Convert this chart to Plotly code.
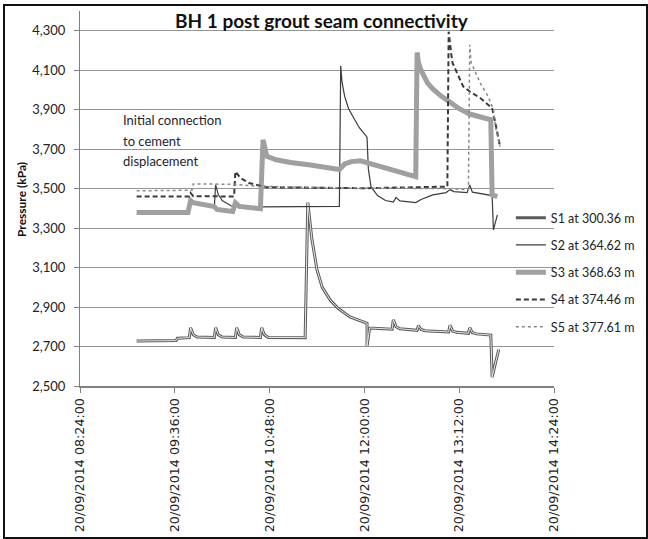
import plotly.graph_objects as go

DATE = "2014-09-20 "

# ---- data (time HH:MM, pressure kPa) ----
s1_time = ["09:07", "09:37", "09:38",
           "09:47", "09:48", "09:50", "09:53",
           "10:06", "10:07", "10:09", "10:12",
           "10:22", "10:23", "10:25", "10:28",
           "10:41", "10:42", "10:44", "10:47",
           "11:15", "11:17", "11:20", "11:24", "11:28", "11:34", "11:40", "11:49",
           "12:02", "12:02", "12:04",
           "12:21", "12:22", "12:24", "12:27",
           "12:40", "12:41", "12:43", "12:46",
           "13:04", "13:05", "13:07", "13:10",
           "13:19", "13:20", "13:22", "13:25",
           "13:36", "13:37", "13:42"]
s1_kpa = [2728, 2730, 2742,
          2745, 2795, 2760, 2748,
          2746, 2795, 2760, 2748,
          2746, 2795, 2760, 2748,
          2746, 2795, 2760, 2746,
          2745, 3430, 3250, 3088, 3000, 2935, 2894, 2850,
          2818, 2703, 2794,
          2788, 2836, 2800, 2790,
          2782, 2806, 2786, 2780,
          2774, 2808, 2778, 2772,
          2767, 2795, 2770, 2764,
          2758, 2545, 2685]

s2_time = ["09:52", "10:06", "10:07", "10:09", "10:12", "10:19", "10:40", "11:41",
           "11:42", "11:43", "11:45", "11:48", "11:52", "11:56", "12:02", "12:03",
           "12:05", "12:10", "12:16",
           "12:22", "12:24", "12:27", "12:39", "12:43", "12:52", "13:02", "13:05",
           "13:08", "13:18", "13:20", "13:22", "13:37", "13:38", "13:41"]
s2_kpa = [3420, 3405, 3520, 3470, 3440, 3412, 3408, 3410,
          4122, 4040, 3967, 3905, 3857, 3810, 3761, 3600,
          3510, 3465, 3440,
          3432, 3455, 3438, 3429, 3445, 3468, 3480, 3495,
          3485, 3480, 3519, 3482, 3465, 3291, 3367]

s3_time = ["09:07", "09:46", "09:48", "09:50", "10:06", "10:08", "10:20", "10:22",
           "10:25", "10:38", "10:41", "10:43", "10:46", "10:53", "11:04", "11:19",
           "11:41", "11:45", "11:50", "11:57", "12:02", "12:10", "12:25", "12:39",
           "12:40", "12:41", "12:43", "12:45", "12:48", "12:52", "12:58", "13:05",
           "13:12", "13:20", "13:28", "13:36", "13:37", "13:41"]
s3_kpa = [3379, 3379, 3440, 3429, 3409, 3395, 3384, 3428,
          3410, 3401, 3398, 3747, 3663, 3646, 3632, 3620,
          3597, 3625, 3637, 3641, 3632, 3612, 3585, 3561,
          4190, 4140, 4100, 4070, 4035, 4005, 3970, 3938,
          3905, 3878, 3862, 3849, 3468, 3460]

s4_time = ["09:07", "09:47", "09:48", "09:50", "10:21", "10:22", "10:26", "10:33",
           "10:46", "12:00", "13:03", "13:04", "13:06", "13:07", "13:15", "13:20",
           "13:28", "13:37", "13:40", "13:43"]
s4_kpa = [3460, 3460, 3478, 3462, 3460, 3587, 3553, 3527,
          3507, 3502, 3510, 4295, 4180, 4136, 4018, 3992,
          3959, 3908, 3815, 3713]

s5_time = ["09:07", "09:49", "09:50", "10:21", "10:40", "11:30", "13:00", "13:19",
           "13:20", "13:21", "13:28", "13:34", "13:38", "13:40", "13:43"]
s5_kpa = [3489, 3492, 3524, 3522, 3512, 3505, 3500, 3495,
          4229, 4140, 4035, 3967, 3900, 3798, 3713]

series_names = ["S1 at 300.36 m", "S2 at 364.62 m", "S3 at 368.63 m",
                "S4 at 374.46 m", "S5 at 377.61 m"]

x_tick_times = ["08:24", "09:36", "10:48", "12:00", "13:12", "14:24"]
x_tick_labels = ["20/09/2014 08:24:00", "20/09/2014 09:36:00", "20/09/2014 10:48:00",
                 "20/09/2014 12:00:00", "20/09/2014 13:12:00", "20/09/2014 14:24:00"]
y_ticks = [2500, 2700, 2900, 3100, 3300, 3500, 3700, 3900, 4100, 4300]


def ts(lst):
    return [DATE + t for t in lst]


FONT = "Lato, 'Open Sans', sans-serif"
TXT = "#222222"

fig = go.Figure()

# S1: double line (dark outline with light core)
fig.add_trace(go.Scatter(x=ts(s1_time), y=s1_kpa, mode="lines", name=series_names[0],
                         legendgroup="s1", line=dict(color="#5a5a5a", width=3)))
fig.add_trace(go.Scatter(x=ts(s1_time), y=s1_kpa, mode="lines", name=series_names[0],
                         legendgroup="s1", showlegend=False, hoverinfo="skip",
                         line=dict(color="#e8e8e8", width=1)))
fig.add_trace(go.Scatter(x=ts(s2_time), y=s2_kpa, mode="lines", name=series_names[1],
                         legendgroup="s2", line=dict(color="#3c3c3c", width=1.2)))
fig.add_trace(go.Scatter(x=ts(s3_time), y=s3_kpa, mode="lines", name=series_names[2],
                         legendgroup="s3", line=dict(color="#a0a0a0", width=5)))
fig.add_trace(go.Scatter(x=ts(s4_time), y=s4_kpa, mode="lines", name=series_names[3],
                         legendgroup="s4", line=dict(color="#3a3a3a", width=2, dash="5px,3px")))
fig.add_trace(go.Scatter(x=ts(s5_time), y=s5_kpa, mode="lines", name=series_names[4],
                         legendgroup="s5", line=dict(color="#8a8a8a", width=1.5, dash="dot")))

fig.update_layout(
    width=648, height=539,
    margin=dict(l=80, r=94, t=11, b=153, autoexpand=False),
    paper_bgcolor="white", plot_bgcolor="white",
    font=dict(family=FONT, color=TXT),
    showlegend=True,
    legend=dict(x=0.909, xanchor="left", y=0.488, yanchor="top",
                bgcolor="rgba(0,0,0,0)", traceorder="grouped", tracegroupgap=8,
                font=dict(family=FONT, size=12.5, color=TXT)),
    xaxis=dict(type="date",
               range=[DATE + x_tick_times[0], DATE + x_tick_times[-1]],
               tickmode="array", tickvals=ts(x_tick_times), ticktext=x_tick_labels,
               tickangle=-90, ticks="outside", ticklen=5, tickcolor="#808080",
               showgrid=False, showline=True, linecolor="#808080", linewidth=2,
               zeroline=False,
               tickfont=dict(family="DejaVu Sans", size=12.7, color=TXT)),
    yaxis=dict(range=[2500, 4400], tickmode="array", tickvals=y_ticks,
               tickformat=",d", ticks="outside", ticklen=5, tickcolor="#808080",
               ticklabelstandoff=6,
               showgrid=True, gridcolor="#969696", gridwidth=1,
               showline=True, linecolor="#808080", linewidth=1, zeroline=False,
               tickfont=dict(family=FONT, size=13, color=TXT)),
)

annotations = [
    dict(text="<b>BH 1 post grout seam connectivity</b>", x=0.511, y=0.976,
         xref="paper", yref="paper", showarrow=False, xanchor="center", yanchor="middle",
         font=dict(family=FONT, size=19, color="#111111")),
    dict(text="<b>Pressure (kPa)</b>", x=(21 - 80) / 474, y=(386 - 200) / 375,
         xref="paper", yref="paper", showarrow=False, textangle=-90,
         xanchor="center", yanchor="middle",
         font=dict(family=FONT, size=12, color="#111111")),
]
for txt, py in [("Initial connection", 120), ("to cement", 141), ("displacement", 161)]:
    annotations.append(dict(text=txt, x=(121 - 80) / 474, y=(386 - py) / 375,
                            xref="paper", yref="paper", showarrow=False,
                            xanchor="left", yanchor="middle",
                            font=dict(family=FONT, size=13, color="#1e1e2e")))
fig.update_layout(annotations=annotations)

# outer chart frame
fig.add_shape(type="rect", xref="paper", yref="paper",
              x0=(4 - 80) / 474, x1=(647 - 80) / 474,
              y0=(386 - 538) / 375, y1=(386 - 5) / 375,
              line=dict(color="#111111", width=2), fillcolor="rgba(0,0,0,0)", layer="above")

fig.write_html("out.html", config={"displayModeBar": False},
               post_script="document.body.style.margin='0';document.body.style.overflow='hidden';")
